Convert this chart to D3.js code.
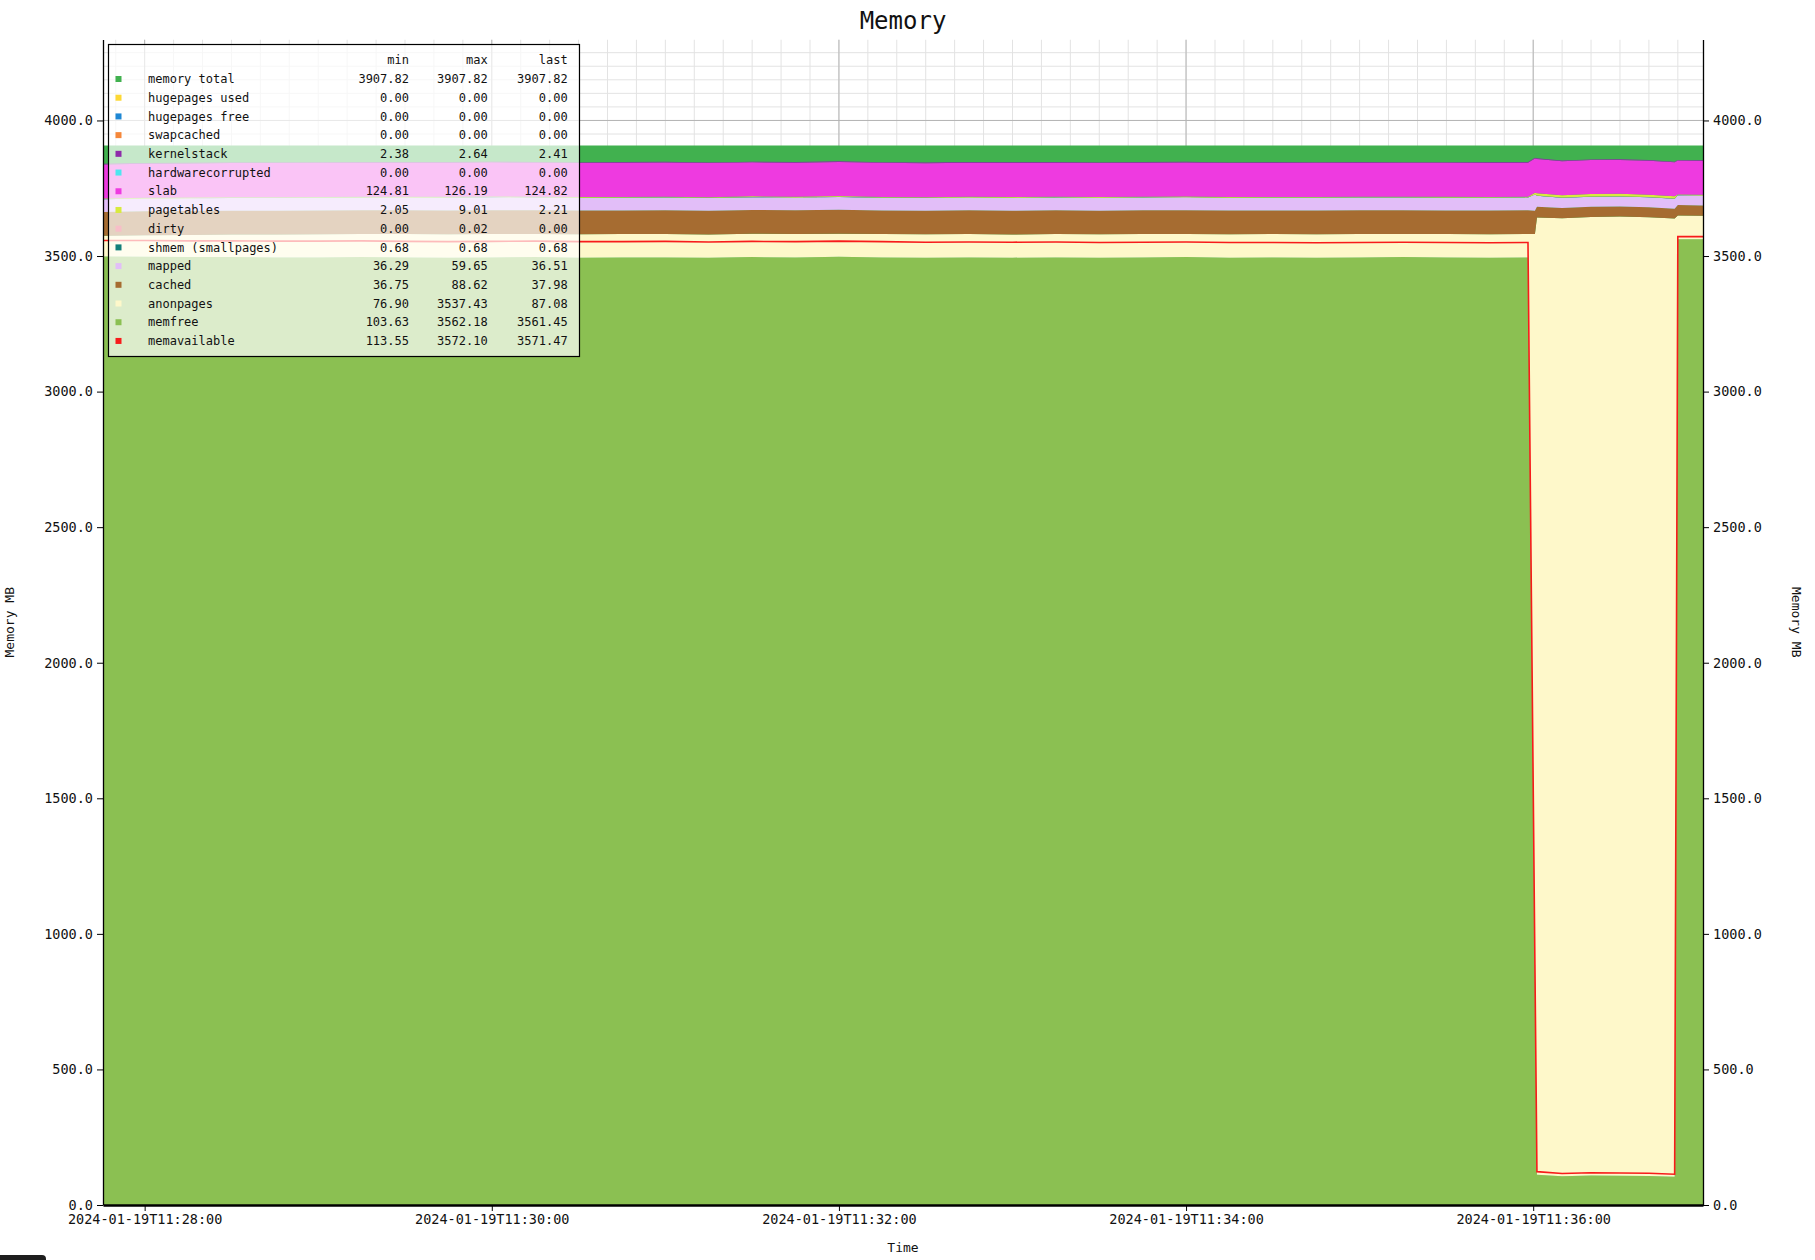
<!DOCTYPE html>
<html>
<head>
<meta charset="utf-8">
<script src="https://cdn.jsdelivr.net/npm/d3@7"></script>
<style>
  html, body { margin: 0; padding: 0; background: #fff; }
  svg text { font-family: "DejaVu Sans Mono", "Liberation Mono", monospace; fill: #111; }
</style>
</head>
<body>
<svg id="chart" width="1815" height="1260"></svg>
<script>
// ---------------- DATA ----------------
const chartTitle = "Memory";
const startTime = "2024-01-19T11:27:45";
// seconds after startTime
const timeOffsets = [0.6,15,30,45,60,75,90,105,120,135,150,165,180,195,210,225,240,255,270,285,300,315,330,345,360,375,390,405,420,435,450,465,480,493.2,495.6,496.3,505,515,525,535,543.9,545,553.7];

const memTotalOffsets = [0.6, 553.7];
const memTotalValues = [3907.82, 3907.82];

const memfree = [3498,3497,3496,3496,3495,3495,3496,3495,3494,3495,3496,3494,3495,3495,3494,3496,3495,3497,3495,3494,3495,3494,3495,3494,3495,3496,3494,3495,3494,3495,3496,3495,3494,3495,864,112,106,109,108,107,104,3562.18,3561.45];
const anonpages = [77,80,82,83,84,85,85,86,86,86,85,86,86,86,85,86,86,85,86,86,86,85,86,86,86,85,86,86,86,86,85,86,86,86,2717,3530,3533,3535,3537.43,3536,3534,87.5,87.08];
const cached = [87.5,87.8,88.0,88.2,88.0,87.6,87.4,87.8,88.1,88.3,88.0,87.5,87.2,87.9,88.4,88.0,87.6,88.62,87.3,87.0,87.6,88.2,87.9,87.4,87.7,88.1,87.5,87.2,87.8,88.0,87.6,87.3,87.9,87.7,86.0,39.5,38.6,38.2,37.6,37.2,36.75,38.1,37.98];
const mapped = [47.2,47.0,46.8,47.1,46.9,47.3,47.0,46.8,47.2,47.4,47.1,46.9,47.0,47.3,46.8,47.2,47.0,47.5,46.9,47.1,47.0,47.2,46.8,47.1,47.0,47.3,46.9,47.0,47.2,46.8,47.1,47.0,46.9,47.0,59.65,41.0,37.2,36.8,36.6,36.4,36.29,36.6,36.51];
const shmem = [0.68,0.68,0.68,0.68,0.68,0.68,0.68,0.68,0.68,0.68,0.68,0.68,0.68,0.68,0.68,0.68,0.68,0.68,0.68,0.68,0.68,0.68,0.68,0.68,0.68,0.68,0.68,0.68,0.68,0.68,0.68,0.68,0.68,0.68,0.68,0.68,0.68,0.68,0.68,0.68,0.68,0.68,0.68];
const pagetables = [2.20,2.21,2.20,2.22,2.21,2.20,2.21,2.23,2.21,2.20,2.21,2.22,2.20,2.21,2.21,2.20,2.22,2.21,2.20,2.21,2.21,2.22,2.20,2.21,2.20,2.21,2.22,2.21,2.20,2.21,2.21,2.20,2.22,2.21,6.4,8.8,9.01,9.0,9.0,9.0,8.98,2.05,2.21];
const slab = [125.4,125.6,125.8,125.5,125.9,126.0,125.7,125.6,125.9,126.1,125.8,125.5,125.9,126.19,125.7,125.6,125.8,126.0,125.5,125.4,125.7,125.9,125.6,125.3,125.5,125.8,125.6,125.4,125.7,125.5,125.3,125.6,125.4,125.5,125.8,125.6,125.2,125.1,125.0,124.9,124.9,124.81,124.82];
const kernelstack = [2.41,2.40,2.42,2.41,2.41,2.39,2.41,2.42,2.40,2.41,2.41,2.38,2.41,2.42,2.41,2.40,2.41,2.41,2.39,2.41,2.42,2.41,2.40,2.41,2.41,2.38,2.41,2.42,2.41,2.40,2.41,2.41,2.40,2.41,2.64,2.60,2.58,2.58,2.57,2.58,2.58,2.42,2.41];
const memavailable = [3557,3557,3556,3556,3555,3555,3556,3554,3553,3554,3555,3553,3553,3554,3552,3554,3553,3555,3553,3551,3552,3551,3552,3550,3551,3552,3550,3550,3549,3550,3551,3550,3549,3550,885,123,116,119,118,117,113.55,3572.1,3571.47];

// legend table
const legendLabels = ["memory total","hugepages used","hugepages free","swapcached","kernelstack","hardwarecorrupted","slab","pagetables","dirty","shmem (smallpages)","mapped","cached","anonpages","memfree","memavailable"];
const legendColors = ["#41b14f","#fdd835","#1e87d4","#f5873a","#8e2aa9","#4ee6ef","#ee3ae0","#d8ea3f","#f7bec8","#137f7a","#e2bef8","#a66c31","#fef8ca","#8bc052","#f71b1b"];
const legendMin  = ["3907.82","0.00","0.00","0.00","2.38","0.00","124.81","2.05","0.00","0.68","36.29","36.75","76.90","103.63","113.55"];
const legendMax  = ["3907.82","0.00","0.00","0.00","2.64","0.00","126.19","9.01","0.02","0.68","59.65","88.62","3537.43","3562.18","3572.10"];
const legendLast = ["3907.82","0.00","0.00","0.00","2.41","0.00","124.82","2.21","0.00","0.68","36.51","37.98","87.08","3561.45","3571.47"];
const legendHeader = ["min","max","last"];

const yTickValues = [0,500,1000,1500,2000,2500,3000,3500,4000];
const yLabel = "Memory MB";
const xLabel = "Time";

// ---------------- LAYOUT ----------------
const W = 1815, H = 1260;
const pLeft = 103, pRight = 1703, pTop = 39.5, pBottom = 1205;

const svg = d3.select("#chart");
const parseT = d3.timeParse("%Y-%m-%dT%H:%M:%S");
const t0 = parseT(startTime);
const toDate = s => new Date(t0.getTime() + s * 1000);
const times = timeOffsets.map(toDate);

const x = d3.scaleTime().domain(d3.extent(times)).range([pLeft, pRight]);
const y = d3.scaleLinear().domain([0, memTotalValues[0] * 1.1]).range([pBottom, pTop]);

svg.append("rect").attr("width", W).attr("height", H).attr("fill", "#fff");

// clip
svg.append("defs").append("clipPath").attr("id", "plotclip")
  .append("rect").attr("x", pLeft).attr("y", pTop).attr("width", pRight - pLeft).attr("height", pBottom - pTop);

const gGrid = svg.append("g").attr("clip-path", "url(#plotclip)");
const [d0, d1] = x.domain();
// minor vertical every 10 s
gGrid.selectAll(".vminor").data(d3.timeSecond.every(10).range(d0, d1)).join("line")
  .attr("x1", d => x(d)).attr("x2", d => x(d)).attr("y1", pTop).attr("y2", pBottom)
  .attr("stroke", "#e3e3e3").attr("stroke-width", 1);
// minor horizontal every 50
gGrid.selectAll(".hminor").data(d3.range(0, y.domain()[1], 50)).join("line")
  .attr("x1", pLeft).attr("x2", pRight).attr("y1", d => y(d)).attr("y2", d => y(d))
  .attr("stroke", "#e3e3e3").attr("stroke-width", 1);
// major
gGrid.selectAll(".vmajor").data(d3.timeMinute.every(2).range(d0, d1)).join("line")
  .attr("x1", d => x(d)).attr("x2", d => x(d)).attr("y1", pTop).attr("y2", pBottom)
  .attr("stroke", "#b4b4b4").attr("stroke-width", 1);
gGrid.selectAll(".hmajor").data(yTickValues).join("line")
  .attr("x1", pLeft).attr("x2", pRight).attr("y1", d => y(d)).attr("y2", d => y(d))
  .attr("stroke", "#b4b4b4").attr("stroke-width", 1);

const gData = svg.append("g").attr("clip-path", "url(#plotclip)");

// memory total area (not stacked)
const totalPts = memTotalOffsets.map((s, i) => ({ t: toDate(s), v: memTotalValues[i] }));
gData.append("path").datum(totalPts)
  .attr("d", d3.area().x(d => x(d.t)).y0(y(0)).y1(d => y(d.v)))
  .attr("fill", legendColors[0]);

// stacked areas
const stackKeys = ["memfree","anonpages","cached","mapped","shmem","pagetables","slab","kernelstack"];
const stackSeries = { memfree, anonpages, cached, mapped, shmem, pagetables, slab, kernelstack };
const colorOf = k => {
  const name = k === "shmem" ? "shmem (smallpages)" : k;
  return legendColors[legendLabels.indexOf(name)];
};
const rows = times.map((t, i) => {
  const r = { t };
  stackKeys.forEach(k => r[k] = stackSeries[k][i]);
  return r;
});
const stacked = d3.stack().keys(stackKeys)(rows);
const area = d3.area().x(d => x(d.data.t)).y0(d => y(d[0])).y1(d => y(d[1]));
gData.selectAll(".layer").data(stacked).join("path")
  .attr("d", area).attr("fill", d => colorOf(d.key));

// memavailable line
gData.append("path").datum(times.map((t, i) => ({ t, v: memavailable[i] })))
  .attr("d", d3.line().x(d => x(d.t)).y(d => y(d.v)))
  .attr("fill", "none").attr("stroke", legendColors[14]).attr("stroke-width", 1.6);

// axes
const fmtY = d3.format(".1f");
const axL = svg.append("g").attr("transform", `translate(${pLeft},0)`)
  .call(d3.axisLeft(y).tickValues(yTickValues).tickFormat(fmtY).tickSize(6).tickPadding(4).tickSizeOuter(0));
const axR = svg.append("g").attr("transform", `translate(${pRight},0)`)
  .call(d3.axisRight(y).tickValues(yTickValues).tickFormat(fmtY).tickSize(6).tickPadding(4).tickSizeOuter(0));
const axB = svg.append("g").attr("transform", `translate(0,${pBottom})`)
  .call(d3.axisBottom(x).ticks(d3.timeMinute.every(2)).tickFormat(d3.timeFormat("%Y-%m-%dT%H:%M:%S")).tickSize(6).tickPadding(3).tickSizeOuter(0));
[axL, axR, axB].forEach(a => {
  a.selectAll("text").style("font-size", "13.5px").attr("fill", "#111");
  a.selectAll("line").attr("stroke", "#000");
  a.select(".domain").attr("stroke", "#000").attr("stroke-width", 1.3);
});
axB.select(".domain").attr("stroke-width", 2.4);

// legend
const lg = svg.append("g");
const lx0 = 108.5, ly0 = 44.5, lx1 = 579.5, ly1 = 356.5;
lg.append("rect").attr("x", lx0).attr("y", ly0).attr("width", lx1 - lx0).attr("height", ly1 - ly0)
  .attr("fill", "#fff").attr("fill-opacity", 0.7).attr("stroke", "#000").attr("stroke-width", 1.2);
const colX = [409, 487.7, 567.7];
const headerY = 60, rowY0 = 79, rowStep = 18.71;
legendHeader.forEach((h, j) => {
  lg.append("text").attr("x", colX[j]).attr("y", headerY).attr("dy", "0.35em")
    .attr("text-anchor", "end").style("font-size", "12px").text(h);
});
legendLabels.forEach((lab, i) => {
  const yy = rowY0 + i * rowStep;
  lg.append("rect").attr("x", 115.5).attr("y", yy - 3).attr("width", 6).attr("height", 6).attr("fill", legendColors[i]);
  lg.append("text").attr("x", 148).attr("y", yy).attr("dy", "0.35em").style("font-size", "12px").text(lab);
  [legendMin[i], legendMax[i], legendLast[i]].forEach((v, j) => {
    lg.append("text").attr("x", colX[j]).attr("y", yy).attr("dy", "0.35em")
      .attr("text-anchor", "end").style("font-size", "12px").text(v);
  });
});

// titles
svg.append("text").attr("x", (pLeft + pRight) / 2).attr("y", 29).attr("text-anchor", "middle")
  .style("font-size", "24px").attr("fill", "#000").text(chartTitle);
svg.append("text").attr("x", (pLeft + pRight) / 2).attr("y", 1252).attr("text-anchor", "middle")
  .style("font-size", "13px").text(xLabel);
svg.append("text").attr("transform", `translate(9.5,${(pTop + pBottom) / 2}) rotate(-90)`)
  .attr("text-anchor", "middle").attr("dy", "0.35em").style("font-size", "13px").text(yLabel);
svg.append("text").attr("transform", `translate(1797,${(pTop + pBottom) / 2}) rotate(90)`)
  .attr("text-anchor", "middle").attr("dy", "0.35em").style("font-size", "13px").text(yLabel);

// small dark tab at the bottom-left edge of the page (as in the reference screenshot)
svg.append("rect").attr("x", -4).attr("y", 1255).attr("width", 50).attr("height", 12).attr("rx", 4).attr("fill", "#1e1e1e");
</script>
</body>
</html>
